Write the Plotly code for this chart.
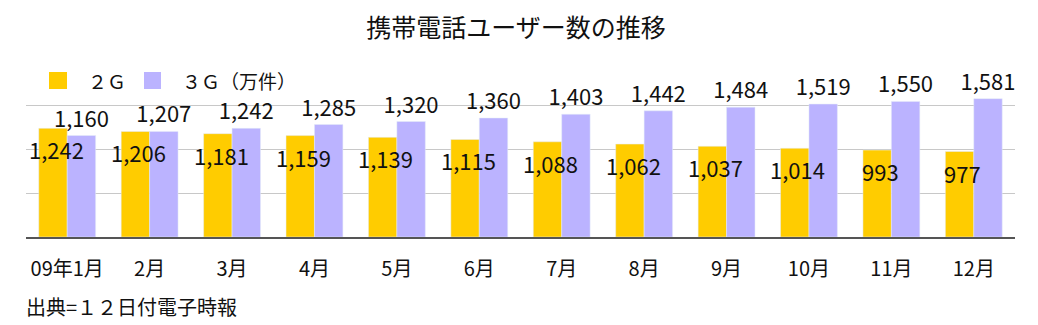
import plotly.graph_objects as go

months = ["09年1月", "2月", "3月", "4月", "5月", "6月", "7月", "8月", "9月", "10月", "11月", "12月"]
users_2g = [1242, 1206, 1181, 1159, 1139, 1115, 1088, 1062, 1037, 1014, 993, 977]
users_3g = [1160, 1207, 1242, 1285, 1320, 1360, 1403, 1442, 1484, 1519, 1550, 1581]
series_names = ["２Ｇ", "３Ｇ（万件）"]
title_text = "携帯電話ユーザー数の推移"
source_text = "出典=１２日付電子時報"

W, H = 1038, 325
L, R, T, B = 26, 23, 62, 88
FONT = "Noto Sans CJK JP"
C2G = "#FFCC00"
C3G = "#BBB3FF"
TXT = "#111111"

def px(x):
    return (x - L) / (W - L - R)

def py(y):
    return (H - B - y) / (H - T - B)

fig = go.Figure()
fig.add_trace(go.Bar(
    x=months, y=users_2g, name=series_names[0], marker_color=C2G,
    showlegend=False,
))
fig.add_trace(go.Bar(
    x=months, y=users_3g, name=series_names[1], marker_color=C3G,
    text=[f"{v:,}" for v in users_3g], textposition="outside",
    textangle=0, constraintext="none",
    textfont=dict(family=FONT, size=22, color=TXT),
    showlegend=False, cliponaxis=False,
))

shapes = []
annotations = []
# 2G value labels, drawn on top of both bars near the top of the 2G bar
for m, v in zip(months, users_2g):
    annotations.append(dict(x=m, y=v, xref="x", yref="y", text=f"{v:,}",
                            showarrow=False, xanchor="center", yanchor="middle",
                            xshift=-11, yshift=-21,
                            font=dict(family=FONT, size=22, color=TXT)))
# manual legend
legend_items = [(49, 67, 86, C2G, series_names[0]), (144, 161, 180, C3G, series_names[1])]
for x0, x1, tx, col, name in legend_items:
    shapes.append(dict(type="rect", xref="paper", yref="paper",
                       x0=px(x0), x1=px(x1), y0=py(89), y1=py(72),
                       fillcolor=col, line=dict(width=0)))
    annotations.append(dict(xref="paper", yref="paper", x=px(tx), y=py(80.5),
                            xanchor="left", yanchor="middle", showarrow=False,
                            text=name, font=dict(family=FONT, size=19, color=TXT)))
annotations.append(dict(xref="paper", yref="paper", x=px(24), y=py(306),
                        xanchor="left", yanchor="middle", showarrow=False,
                        text=source_text, font=dict(family=FONT, size=20, color=TXT)))

fig.update_layout(
    width=W, height=H,
    margin=dict(l=L, r=R, t=T, b=B),
    paper_bgcolor="white", plot_bgcolor="white",
    barmode="group", bargap=0.31, bargroupgap=0,
    title=dict(text=title_text, x=0.497, xanchor="center", y=1 - 28 / H,
               yanchor="middle", yref="container",
               font=dict(family=FONT, size=25, color=TXT)),
    font=dict(family=FONT, color=TXT),
    shapes=shapes, annotations=annotations,
    xaxis=dict(showline=True, linecolor="#555555", linewidth=1.5,
               tickfont=dict(family=FONT, size=20, color=TXT),
               ticks="", ticklabelstandoff=13, showgrid=False),
    yaxis=dict(range=[0, 2000], dtick=500, showticklabels=False,
               showgrid=True, gridcolor="#c8c8c8", gridwidth=1.2,
               zeroline=False, ticks=""),
)

fig.write_html("out.html")
